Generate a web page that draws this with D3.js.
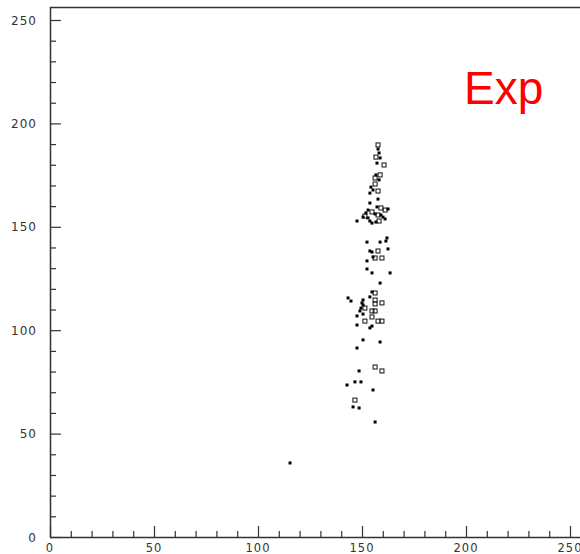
<!DOCTYPE html>
<html>
<head>
<meta charset="utf-8">
<script src="https://cdn.jsdelivr.net/npm/d3@7"></script>
<style>
html,body{margin:0;padding:0;background:#fff;}
svg{display:block;}
</style>
</head>
<body>
<svg id="chart" width="580" height="554"></svg>
<script>
// Data
const xValues = [157.7,157.7,158.2,156.7,158.7,157.2,160.6,156.7,158.7,156.3,158.2,156.3,154.3,155.3,157.7,153.8,157.7,153.8,
  157.2,159.1,161.1,162.5,152.9,151.9,154.8,156.3,157.7,159.1,160.1,161.1,150.5,152.9,153.8,154.8,156.7,147.6,158.2,151.4,162.0,
  152.4,158.7,161.5,153.8,154.8,157.7,162.5,155.3,156.3,159.6,152.4,152.4,154.8,163.5,158.7,154.8,156.3,143.3,144.7,153.8,150.5,
  156.3,156.3,159.6,150.0,150.5,149.5,151.4,154.8,156.3,149.0,147.6,150.5,154.8,151.4,157.7,159.6,147.6,154.8,153.8,150.5,158.7,147.6,
  156.3,159.6,148.6,146.6,149.5,142.8,155.3,146.6,145.7,148.6,156.3,115.4];
const yValues = [189.6,187.6,185.7,183.7,183.3,180.8,179.9,175.1,175.1,173.6,172.7,170.7,169.2,167.8,167.3,166.3,163.4,161.5,
  159.6,159.1,158.1,158.6,158.1,156.7,157.2,156.2,155.7,155.7,154.7,153.8,154.7,154.3,152.8,151.8,152.3,152.8,152.8,155.2,144.6,
  142.6,142.6,143.1,138.3,137.8,138.3,139.3,135.4,134.9,134.9,133.5,129.6,127.7,127.7,122.8,118.5,118.0,115.6,114.1,116.1,114.6,
  114.6,112.7,113.2,113.2,112.2,110.7,110.7,109.3,109.3,109.3,106.9,107.8,106.4,104.4,104.4,104.4,102.5,102.0,101.1,95.3,94.3,91.4,
  82.2,80.3,80.3,75.0,75.0,73.5,71.1,66.2,62.9,62.4,55.6,35.8];
// 1 = hollow square marker, 0 = filled
const hollow = [1,0,0,1,0,0,1,0,1,1,0,1,0,0,1,0,0,0,
  0,1,1,0,0,0,1,0,1,0,0,0,0,0,0,0,0,0,1,1,0,
  0,0,0,0,0,1,0,0,1,1,0,0,0,0,0,0,1,0,0,0,0,
  1,1,1,0,0,0,1,1,1,0,0,0,1,1,1,1,0,0,0,0,0,0,
  1,1,0,0,0,0,0,1,0,0,0,0];
const xTickLabels = [0,50,100,150,200,250];
const yTickLabels = [0,50,100,150,200,250];
const label = "Exp";

const svg = d3.select("#chart");
const x = d3.scaleLinear().domain([0,250]).range([50,570]);
const y = d3.scaleLinear().domain([0,250]).range([537,20]);
const axisColor = "#333";

// frame: top border
svg.append("line").attr("x1",50).attr("x2",580).attr("y1",7.5).attr("y2",7.5)
  .attr("stroke",axisColor).attr("stroke-width",1.5);

// X axis (ticks pointing up into the plot)
const gx = svg.append("g").attr("transform","translate(0,537)");
gx.call(d3.axisTop(x).tickValues(d3.range(0,251,10)).tickSize(6).tickFormat(""))
gx.select(".domain").remove();
gx.selectAll(".tick line").attr("stroke",axisColor).attr("stroke-width",1.2)
  .attr("y2", d => d % 50 === 0 ? -11 : -6);
svg.append("line").attr("x1",50).attr("x2",580).attr("y1",537.5).attr("y2",537.5)
  .attr("stroke",axisColor).attr("stroke-width",1.5);
svg.append("g").selectAll("text").data(xTickLabels).join("text")
  .attr("x", d => x(d)).attr("y",551.5)
  .attr("text-anchor","middle")
  .attr("font-family","DejaVu Sans, sans-serif").attr("font-size",11.5)
  .attr("letter-spacing",1).attr("fill","#333")
  .text(d => d);

// Y axis (ticks pointing right into the plot)
const gy = svg.append("g").attr("transform","translate(50,0)");
gy.call(d3.axisRight(y).tickValues(d3.range(0,251,10)).tickSize(6).tickFormat(""));
gy.select(".domain").remove();
gy.selectAll(".tick line").attr("stroke",axisColor).attr("stroke-width",1.2)
  .attr("x2", d => d % 50 === 0 ? 11 : 6);
svg.append("line").attr("x1",50.5).attr("x2",50.5).attr("y1",7).attr("y2",538)
  .attr("stroke",axisColor).attr("stroke-width",1.5);
svg.append("g").selectAll("text").data(yTickLabels).join("text")
  .attr("x",37).attr("y", d => y(d)+4.5)
  .attr("text-anchor","end")
  .attr("font-family","DejaVu Sans, sans-serif").attr("font-size",12)
  .attr("letter-spacing",1).attr("fill","#333")
  .text(d => d);

// points
const pts = xValues.map((v,i) => ({x:v, y:yValues[i], h:hollow[i]}));
svg.append("g").selectAll("rect").data(pts).join("rect")
  .attr("x", d => x(d.x) - (d.h ? 2 : 1.5))
  .attr("y", d => y(d.y) - (d.h ? 2 : 1.5))
  .attr("width", d => d.h ? 4 : 3)
  .attr("height", d => d.h ? 4 : 3)
  .attr("fill", d => d.h ? "none" : "#000")
  .attr("stroke", d => d.h ? "#111" : "none")
  .attr("stroke-width", 1);

// label
svg.append("text").attr("x",464).attr("y",104)
  .attr("font-family","Liberation Sans, Arial, sans-serif").attr("font-size",46)
  .attr("fill","#ff0000").text(label);
</script>
</body>
</html>
